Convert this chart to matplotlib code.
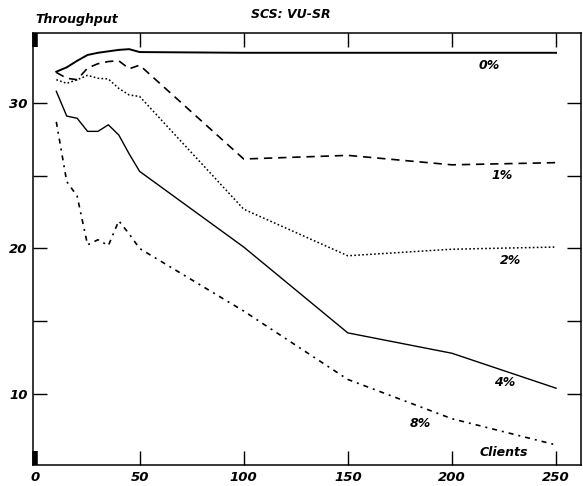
import matplotlib
matplotlib.use("Agg")
import matplotlib.pyplot as plt

# clients on the x axis
clients = [10, 15, 20, 25, 30, 35, 40, 45, 50, 100, 150, 200, 250]

# throughput per abort rate
tp_0 = [32.15, 32.45, 32.9, 33.3, 33.45, 33.55, 33.65, 33.7, 33.5, 33.45, 33.45, 33.45, 33.45]
tp_1 = [32.1, 31.7, 31.6, 32.4, 32.7, 32.85, 32.9, 32.35, 32.6, 26.15, 26.4, 25.75, 25.9]
tp_2 = [31.6, 31.35, 31.6, 31.9, 31.7, 31.65, 31.0, 30.55, 30.45, 22.7, 19.5, 19.95, 20.1]
tp_4 = [30.8, 29.1, 28.95, 28.05, 28.05, 28.5, 27.8, 26.5, 25.3, 20.1, 14.2, 12.8, 10.4]
tp_8 = [28.7, 24.6, 23.6, 20.25, 20.6, 20.2, 21.9, 21.0, 20.0, 15.7, 11.0, 8.3, 6.5]

labels = ["0%", "1%", "2%", "4%", "8%"]

plt.rcParams['font.family'] = ['DejaVu Sans']
font = dict(fontweight='bold', fontstyle='italic')

fig = plt.figure(figsize=(5.83, 4.86), dpi=100)
ax = fig.add_axes([33/583, 1-465/486, 548/583, 432/486])

ax.plot(clients, tp_0, color='black', lw=1.4, ls='-')
ax.plot(clients, tp_1, color='black', lw=1.2, ls=(0, (5, 3.5)))
ax.plot(clients, tp_2, color='black', lw=1.1, ls=(0, (1.1, 1.5)))
ax.plot(clients, tp_4, color='black', lw=1.0, ls='-')
ax.plot(clients, tp_8, color='black', lw=1.2, ls=(0, (3, 3, 1.2, 3)))

# curve labels
ax.text(218, 32.6, labels[0], ha='center', va='center', fontsize=9, **font)
ax.text(224, 25.05, labels[1], ha='center', va='center', fontsize=9, **font)
ax.text(228, 19.2, labels[2], ha='center', va='center', fontsize=9, **font)
ax.text(225.5, 10.8, labels[3], ha='center', va='center', fontsize=9, **font)
ax.text(184.7, 8.0, labels[4], ha='center', va='center', fontsize=9, **font)
ax.text(225, 6.0, "Clients", ha='center', va='center', fontsize=9, **font)

ax.set_xlim(-1.2, 262)
ax.set_ylim(5.12, 34.81)
ax.set_xticks([0, 50, 100, 150, 200, 250])
ax.set_yticks([10, 15, 20, 25, 30])
ax.set_yticklabels(["10", "", "20", "", "30"])
ax.tick_params(direction='in', length=10, width=1.0, top=True, right=True,
               labelsize=9.5, pad=4)
for lab in ax.get_xticklabels() + ax.get_yticklabels():
    lab.set_fontweight('bold')
    lab.set_fontstyle('italic')

# thick mark at x = 0, top and bottom
t0 = ax.xaxis.get_major_ticks()[0]
t0.tick1line.set_markeredgewidth(4)
t0.tick2line.set_markeredgewidth(4)

for sp in ax.spines.values():
    sp.set_linewidth(1.1)

fig.text(35/583, 1-20/486, "Throughput", ha='left', va='center', fontsize=9, **font)
fig.text(291/583, 1-15/486, "SCS: VU-SR", ha='center', va='center', fontsize=9, **font)

fig.savefig("out.png", dpi=100)
